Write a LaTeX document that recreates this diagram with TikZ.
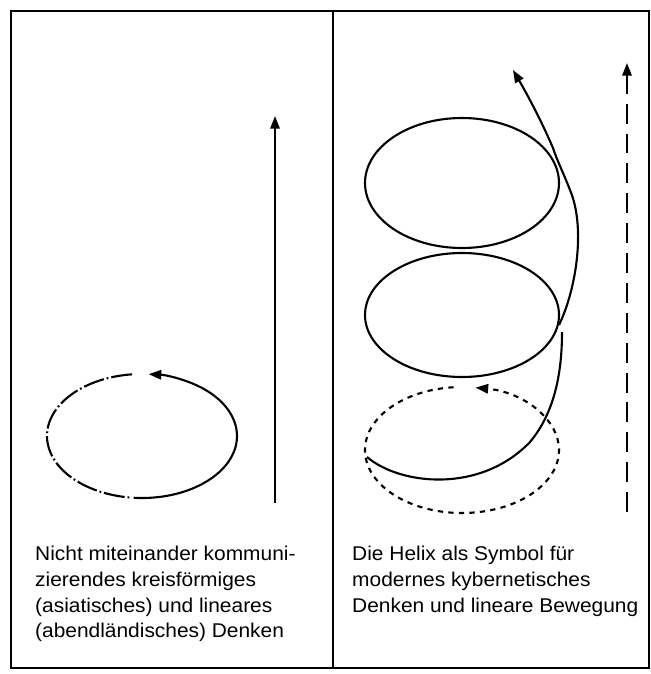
\documentclass[tikz,border=0pt]{standalone}
\usepackage{fontspec}
\setmainfont{Liberation Sans}[FakeStretch=1.05]
\usetikzlibrary{arrows.meta,positioning}
\tikzset{
  frame/.style   = {line width=2.5pt},
  curve/.style   = {line width=1.8pt},
  tip/.style     = {-{Triangle[length=3.8mm,width=2.8mm]}},
  brokenline/.style = {curve, dash pattern=on 18pt off 2.5pt on 1.5pt off 2.5pt},
  dottedline/.style = {curve, dash pattern=on 4.5pt off 4.5pt},
  longdash/.style   = {curve, dash pattern=on 17pt off 8.5pt},
  caption/.style = {anchor=north west, align=left, inner sep=0pt,
                    font=\fontsize{17}{22}\selectfont},
}
\begin{document}
\begin{tikzpicture}[x=0.03cm,y=-0.03cm]
  \useasboundingbox (0,0) rectangle (651,674);
  % frame and divider
  \draw[frame] (11,11) rectangle (649,668);
  \draw[line width=1.8pt] (333,11) -- (333,668);

  % left: circle and straight line
  \coordinate (lbot) at (275,503);
  \coordinate (ltop) at (275,116);
  \draw[curve,tip] (lbot) -- (ltop);
  \coordinate (ring) at (142,436);
  \draw[curve,tip] (ring) ++(95:95 and 62) arc[start angle=95, end angle=-86, x radius=95, y radius=62];
  \draw[brokenline] (ring) ++(-96:95 and 62) arc[start angle=-96, end angle=-264, x radius=95, y radius=62];

  % right: helix
  \coordinate (htop) at (462,183);
  \coordinate (hmid) at (462,315);
  \coordinate (hbot) at (462,450);
  \draw[curve] (htop) ellipse[x radius=97, y radius=65];
  \draw[curve] (hmid) ellipse[x radius=97, y radius=62];
  \draw[dottedline,tip] (hbot) ++(265:97 and 63) arc[start angle=265, end angle=-82, x radius=97, y radius=63];
  \draw[curve] (367,457) .. controls (400,485) and (480,494) .. (530,442)
    .. controls (555,412) and (562,372) .. (562,332);
  \draw[curve,tip] (559,325) .. controls (576,290) and (586,228) .. (570,190)
    .. controls (563,172) and (556,158) .. (553,148)
    .. controls (541,120) and (527,94) .. (513,70);
  \coordinate (rbot) at (627,512);
  \coordinate (rtop) at (627,63);
  \draw[longdash,tip] (rbot) -- (rtop);

  % captions
  \node[caption] (lcap) at (35,546) {Nicht miteinander kommuni-\\zierendes kreisförmiges\\(asiatisches) und lineares\\(abendländisches) Denken};
  \node[caption] (rcap) at (352,546) {Die Helix als Symbol für\\modernes kybernetisches\\Denken und lineare Bewegung};
\end{tikzpicture}
\end{document}
